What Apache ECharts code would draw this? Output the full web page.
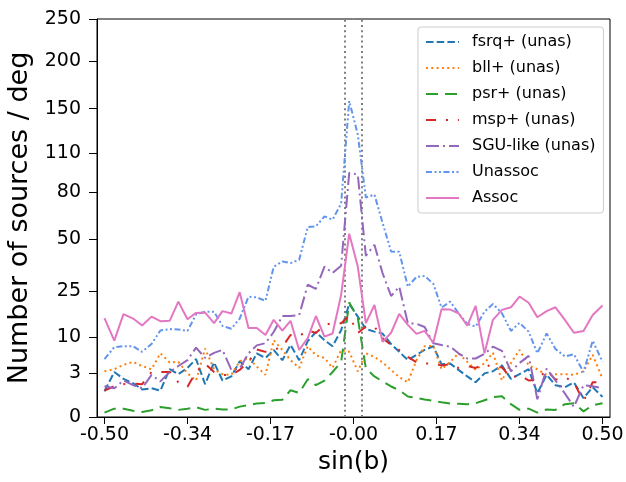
<!DOCTYPE html>
<html>
<head>
<meta charset="utf-8">
<script src="https://cdn.jsdelivr.net/npm/echarts@6/dist/echarts.min.js"></script>
<style>
html,body{margin:0;padding:0;background:#fff;}
#chart{width:626px;height:482px;}
</style>
</head>
<body>
<div id="chart"></div>
<script>
// bin positions in sin(b)
const sinB = [-0.500,-0.482,-0.465,-0.447,-0.430,-0.412,-0.395,-0.377,-0.360,-0.342,-0.325,-0.307,-0.289,-0.272,-0.254,-0.237,-0.219,-0.202,-0.184,-0.167,-0.149,-0.132,-0.114,-0.096,-0.079,-0.061,-0.044,-0.026,-0.009,
  0.009,0.026,0.044,0.061,0.079,0.096,0.114,0.132,0.149,0.167,0.184,0.202,0.219,0.237,0.254,0.272,0.289,0.307,0.325,0.342,0.360,0.377,0.395,0.412,0.430,0.447,0.465,0.482,0.500];

const fsrq = [1.05,3.2,2.3,1.8,1.2,1.3,1.1,3.6,2.9,3.8,5.3,1.7,4.7,2.1,2.6,4.9,3.6,6.4,5.5,7.1,5.1,8.2,5.1,9.1,11.4,9.3,7.9,11.9,20.2,
  15.9,12.2,11.5,11.0,8.4,6.7,5.1,6.1,7.1,7.9,4.4,4.5,3.5,2.6,1.9,3.0,3.3,4.2,2.3,2.9,3.6,0.9,2.8,1.6,1.4,1.9,0.56,1.4,0.64];
const bll = [3.3,3.6,4.3,4.8,4.1,3.6,6.4,4.7,4.8,3.0,2.1,7.4,3.6,2.9,2.8,4.9,5.5,4.0,2.8,9.3,7.1,5.1,3.8,7.9,6.0,5.5,3.8,7.1,6.7,
  3.3,6.4,5.7,4.7,3.5,2.5,1.9,5.1,7.9,8.0,3.6,4.8,6.4,4.8,3.5,4.6,6.5,2.1,4.6,7.1,4.2,3.6,2.8,2.9,2.9,2.8,3.3,6.1,2.3];
const psr = [0.03,0.11,0.11,0.06,0.04,0.07,0.16,0.12,0.08,0.11,0.15,0.08,0.11,0.09,0.09,0.17,0.22,0.29,0.31,0.44,0.47,1.13,0.92,2.26,1.6,2.1,3.2,4.75,20.7,
  15.5,3.7,2.6,2.0,1.47,1.13,0.66,0.57,0.48,0.41,0.34,0.29,0.28,0.26,0.30,0.44,0.62,0.68,0.26,0.08,0.11,0.03,0.09,0.08,0.26,0.30,0.05,0.22,0.30];
const msp = [1.1,1.5,1.7,1.75,1.7,3.2,3.2,3.2,1.9,1.45,3.2,4.5,3.2,2.8,2.8,3.5,4.8,7.2,6.7,7.1,7.8,10.6,10.3,11.9,11.1,13.4,13.9,13.9,16.1,
  11.1,12.9,12.9,9.8,8.2,7.1,5.7,4.75,4.5,4.5,4.2,4.4,3.8,4.1,3.8,4.4,3.9,3.9,2.4,2.8,2.1,2.2,3.5,2.2,2.5,1.9,0.39,1.9,1.9];
const sgu = [1.5,1.3,2.1,1.6,1.3,2.8,2.0,3.2,4.1,5.1,7.6,5.5,6.5,7.1,3.5,3.7,6.4,8.1,8.6,11.4,16.1,16.1,16.4,27.6,25.9,35.7,32.7,36.1,94.1,
  92.8,41.0,46.8,32.7,23.1,26.8,13.9,13.7,12.8,8.6,8.2,7.8,6.4,5.4,5.4,6.3,7.8,6.9,3.3,4.6,5.9,0.5,3.7,2.1,0.87,0.16,1.6,1.5,1.3];
const unassoc = [5.3,7.7,7.9,7.9,6.7,8.4,11.8,12.2,12.1,11.7,16.6,17.5,17.5,13.1,12.3,15.3,22.8,22.6,21.3,35.6,38.2,37.4,39.0,57.0,57.3,63.5,61.5,71.9,157.6,
  126,76.0,78.1,59.6,43.2,43.1,26.8,31.0,31.4,28.0,18.9,21.0,17.0,13.7,12.9,17.5,20.2,17.0,11.7,14.0,11.5,6.4,11.0,7.3,5.8,6.2,3.2,9.2,4.8];
const assoc = [15.4,9.2,16.7,15.3,13.2,15.9,14.5,14.6,21.0,15.1,17.1,17.2,13.9,17.7,16.9,24.6,12.5,12.5,10.6,14.9,11.8,14.6,7.1,9.8,16.1,10.2,11.0,23.5,53.0,
  35.7,13.9,19.8,8.9,11.2,16.8,13.4,10.9,11.7,8.7,18.3,18.2,17.0,13.2,19.5,6.4,14.9,18.1,19.0,22.9,20.6,15.7,17.7,19.0,14.9,11.2,11.7,16.4,19.6];

const seriesNames = ['fsrq+ (unas)','bll+ (unas)','psr+ (unas)','msp+ (unas)','SGU-like (unas)','Unassoc','Assoc'];
const yTicks = [0,3,10,25,50,80,110,150,200,250];
const xTickDeg = [-30,-20,-10,0,10,20,30];
const xTickLabels = ['-0.50','-0.34','-0.17','-0.00','0.17','0.34','0.50'];
const vLinesDeg = [-1, 1];

const FONT = 'DejaVu Sans';
const toDeg = s => Math.asin(s) * 180 / Math.PI;
const mk = arr => arr.map((v, i) => [toDeg(sinB[i]), Math.sqrt(v)]);

const styles = [
  {color:'#1f77b4', type:[7.5,3.2]},
  {color:'#ff7f0e', type:[2,3.3]},
  {color:'#2ca02c', type:[12,7]},
  {color:'#d62728', type:[10,10,2,10]},
  {color:'#9467bd', type:[13,4,2,4]},
  {color:'#6495ed', type:[6,2.5,2,2.5,2,2.5]},
  {color:'#e377c2', type:'solid'}
];
const datas = [fsrq, bll, psr, msp, sgu, unassoc, assoc];

const series = datas.map((d, i) => ({
  name: seriesNames[i],
  type: 'line',
  data: mk(d),
  symbol: 'none',
  smooth: false,
  lineStyle: {color: styles[i].color, width: 2, type: styles[i].type, cap: 'butt'},
  itemStyle: {color: styles[i].color},
  z: 2 + i
}));
series.push({
  type: 'line', data: [], silent: true,
  markLine: {
    silent: true, symbol: ['none','none'],
    label: {show: false},
    lineStyle: {color: '#808080', width: 2, type: [2, 3.2]},
    data: vLinesDeg.map(v => ({xAxis: v}))
  }
});

const chart = echarts.init(document.getElementById('chart'));
chart.setOption({
  animation: false,
  backgroundColor: '#fff',
  textStyle: {fontFamily: FONT},
  grid: {left: 97, right: 16, top: 19, bottom: 65, show: true, borderColor: '#000', borderWidth: 1, containLabel: false, outerBoundsMode: 'none'},
  legend: {
    data: seriesNames,
    orient: 'vertical',
    left: 418, top: 27,
    itemWidth: 33, itemHeight: 14, itemGap: 10,
    padding: [7, 8, 7, 7],
    backgroundColor: 'rgba(255,255,255,0.8)',
    borderColor: '#cccccc', borderWidth: 1, borderRadius: 3,
    itemStyle: {opacity: 0, borderWidth: 0, color: 'rgba(0,0,0,0)'},
    textStyle: {fontFamily: FONT, fontSize: 16, color: '#000', padding: [0,0,0,8]}
  },
  xAxis: {
    type: 'value', min: -30.9, max: 30.9,
    name: 'sin(b)', nameLocation: 'middle', nameGap: 30,
    nameTextStyle: {fontFamily: FONT, fontSize: 25, color: '#000'},
    axisLine: {show: true, onZero: false, lineStyle: {color: '#000', width: 1}},
    axisTick: {show: true, inside: false, length: 7, lineStyle: {color: '#000', width: 1}, customValues: xTickDeg},
    axisLabel: {show: true, margin: 9, fontFamily: FONT, fontSize: 19, color: '#000', customValues: xTickDeg,
      formatter: v => { const i = xTickDeg.findIndex(t => Math.abs(t - v) < 1e-6); return i >= 0 ? xTickLabels[i] : ''; }},
    splitLine: {show: false}
  },
  yAxis: {
    type: 'value', min: 0, max: Math.sqrt(250),
    name: 'Number of sources / deg', nameLocation: 'middle', nameGap: 60, nameRotate: 90,
    nameTextStyle: {fontFamily: FONT, fontSize: 27, color: '#000'},
    axisLine: {show: true, onZero: false, lineStyle: {color: '#000', width: 1}},
    axisTick: {show: true, inside: false, length: 8, lineStyle: {color: '#000', width: 1}, customValues: yTicks.map(Math.sqrt)},
    axisLabel: {show: true, margin: 16, fontFamily: FONT, fontSize: 19, color: '#000', customValues: yTicks.map(Math.sqrt),
      formatter: v => String(Math.round(v * v))},
    splitLine: {show: false}
  },
  series: series
});
</script>
</body>
</html>
